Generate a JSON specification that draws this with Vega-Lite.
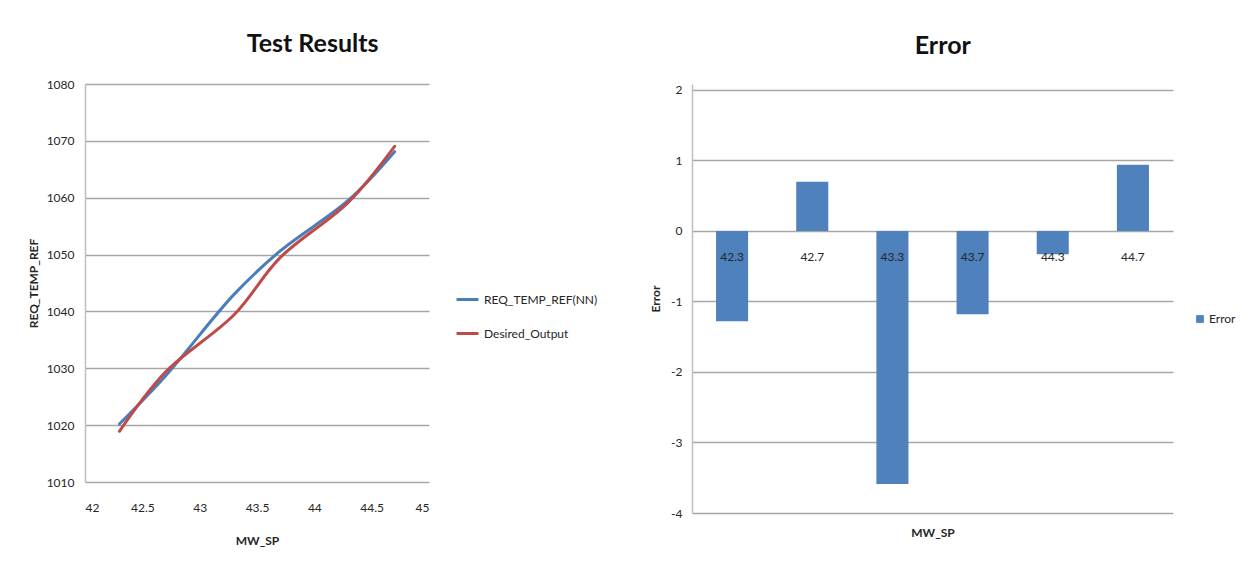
{
  "$schema": "https://vega.github.io/schema/vega-lite/v6.json",
  "background": "white",
  "padding": {"left": 27, "top": 32, "right": 0, "bottom": 0},
  "spacing": 51,
  "resolve": {
    "scale": {"color": "independent", "x": "independent", "y": "independent"},
    "legend": {"color": "independent"}
  },
  "config": {
    "font": "Lato",
    "view": {"stroke": null},
    "axis": {
      "labelFont": "Lato",
      "titleFont": "Lato",
      "labelFontSize": 12,
      "labelColor": "#262626",
      "titleFontSize": 12,
      "titleColor": "#262626",
      "gridColor": "#a6a6a6",
      "gridWidth": 1.5,
      "domainColor": "#bfbfbf",
      "domainWidth": 1.5
    },
    "legend": {
      "labelFont": "Lato",
      "labelFontSize": 12,
      "labelColor": "#262626"
    },
    "title": {
      "font": "Lato",
      "fontSize": 25,
      "fontWeight": "bold",
      "color": "#111111",
      "anchor": "middle",
      "frame": "bounds"
    }
  },
  "datasets": {
    "test": [
      {"MW_SP": 42.3, "series": "REQ_TEMP_REF(NN)", "temp": 1020.2},
      {"MW_SP": 42.7, "series": "REQ_TEMP_REF(NN)", "temp": 1028.6},
      {"MW_SP": 43.3, "series": "REQ_TEMP_REF(NN)", "temp": 1043.0},
      {"MW_SP": 43.7, "series": "REQ_TEMP_REF(NN)", "temp": 1050.6},
      {"MW_SP": 44.3, "series": "REQ_TEMP_REF(NN)", "temp": 1059.6},
      {"MW_SP": 44.7, "series": "REQ_TEMP_REF(NN)", "temp": 1068.1},
      {"MW_SP": 42.3, "series": "Desired_Output", "temp": 1018.92},
      {"MW_SP": 42.7, "series": "Desired_Output", "temp": 1029.3},
      {"MW_SP": 43.3, "series": "Desired_Output", "temp": 1039.41},
      {"MW_SP": 43.7, "series": "Desired_Output", "temp": 1049.42},
      {"MW_SP": 44.3, "series": "Desired_Output", "temp": 1059.27},
      {"MW_SP": 44.7, "series": "Desired_Output", "temp": 1069.04}
    ],
    "error": [
      {"MW_SP": 42.3, "Error": -1.28},
      {"MW_SP": 42.7, "Error": 0.7},
      {"MW_SP": 43.3, "Error": -3.59},
      {"MW_SP": 43.7, "Error": -1.18},
      {"MW_SP": 44.3, "Error": -0.33},
      {"MW_SP": 44.7, "Error": 0.94}
    ]
  },
  "hconcat": [
    {
      "title": {"text": "Test Results", "offset": 21},
      "width": 344,
      "height": 398,
      "data": {"name": "test"},
      "mark": {"type": "line", "interpolate": "catmull-rom", "strokeWidth": 3, "strokeCap": "round"},
      "encoding": {
        "x": {
          "field": "MW_SP",
          "type": "quantitative",
          "scale": {"domain": [42, 45], "nice": false, "zero": false},
          "axis": {
            "values": [42, 42.5, 43, 43.5, 44, 44.5, 45],
            "format": "~g",
            "grid": false,
            "domain": false,
            "ticks": false,
            "labelPadding": 20,
            "title": "MW_SP",
            "titleFontWeight": "bold",
            "titlePadding": 22.5
          }
        },
        "y": {
          "field": "temp",
          "type": "quantitative",
          "scale": {"domain": [1010, 1080], "nice": false, "zero": false},
          "axis": {
            "values": [1010, 1020, 1030, 1040, 1050, 1060, 1070, 1080],
            "format": "d",
            "ticks": false,
            "labelPadding": 11,
            "title": "REQ_TEMP_REF",
            "titleFontWeight": "bold",
            "titlePadding": 6
          }
        },
        "color": {
          "field": "series",
          "type": "nominal",
          "sort": ["REQ_TEMP_REF(NN)", "Desired_Output"],
          "scale": {"domain": ["REQ_TEMP_REF(NN)", "Desired_Output"], "range": ["#4A7EBB", "#BE4B48"]},
          "legend": {
            "title": null,
            "orient": "none",
            "legendX": 370,
            "legendY": 203,
            "symbolType": "stroke",
            "symbolSize": 480,
            "symbolStrokeWidth": 3,
            "rowPadding": 15,
            "padding": 0,
            "labelOffset": 4
          }
        }
      }
    },
    {
      "title": {"text": "Error", "offset": 25},
      "width": 481,
      "height": 429,
      "data": {"name": "error"},
      "encoding": {
        "x": {
          "field": "MW_SP",
          "type": "ordinal",
          "scale": {"paddingInner": 0.6, "paddingOuter": 0.3},
          "axis": {
            "labels": false,
            "ticks": false,
            "domain": false,
            "title": "MW_SP",
            "titleFontWeight": "bold",
            "titlePadding": 14.5
          }
        }
      },
      "layer": [
        {
          "mark": {"type": "bar"},
          "encoding": {
            "y": {
              "field": "Error",
              "type": "quantitative",
              "scale": {"domain": [-4, 2.085], "nice": false},
              "axis": {
                "values": [-4, -3, -2, -1, 0, 1, 2],
                "labelExpr": "datum.value < 0 ? '-' + abs(datum.value) : '' + datum.value",
                "ticks": false,
                "labelPadding": 10,
                "title": "Error",
                "titleFontWeight": "bold",
                "titlePadding": 8
              }
            },
            "color": {
              "datum": "Error",
              "scale": {"range": ["#4F81BD"]},
              "legend": {
                "title": null,
                "orient": "none",
                "legendX": 502,
                "legendY": 229,
                "symbolType": "square",
                "symbolSize": 60,
                "padding": 0,
                "labelOffset": 3
              }
            }
          }
        },
        {
          "mark": {"type": "text", "dy": 26, "fontSize": 12, "color": "#262626"},
          "encoding": {
            "y": {"datum": 0, "type": "quantitative"},
            "text": {"field": "MW_SP", "type": "quantitative"}
          }
        }
      ]
    }
  ]
}
